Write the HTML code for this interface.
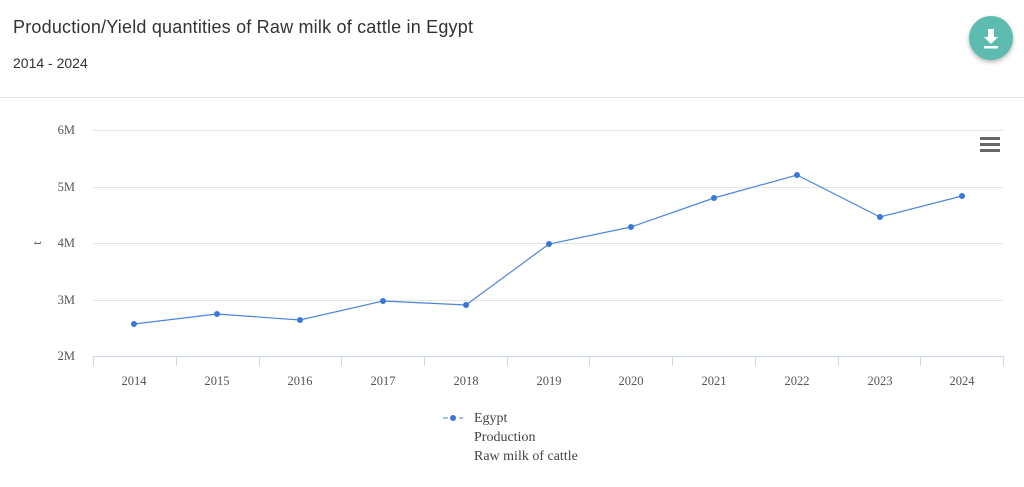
<!DOCTYPE html>
<html><head><style>
body{margin:0;background:#fff;width:1024px;height:487px;overflow:hidden;font-family:"Liberation Sans",sans-serif;}
.t{position:absolute;left:13px;top:17px;font-size:18px;color:#333;letter-spacing:0.2px}
.s{position:absolute;left:13px;top:55px;font-size:14px;color:#333}
.hr{position:absolute;left:0;top:97px;width:1024px;height:1px;background:#e6e6e6}
.btn{position:absolute;left:969px;top:16px;width:44px;height:44px;border-radius:50%;background:#5cbcaf;box-shadow:0 2px 5px rgba(0,0,0,.3)}
</style></head><body>
<div class="t">Production/Yield quantities of Raw milk of cattle in Egypt</div>
<div class="s">2014 - 2024</div>
<div class="hr"></div>
<div class="btn"><svg width="44" height="44"><path d="M19 13h6v8h4l-7 7-7-7h4z" fill="#fff"/><rect x="15" y="30" width="14" height="2.5" fill="#fff"/></svg></div>
<svg width="1024" height="487" style="position:absolute;left:0;top:0" font-family="Liberation Serif,serif" font-size="12.5" fill="#555">
<g stroke="#e6e6e6" stroke-width="1">
<line x1="93" x2="1003" y1="130.5" y2="130.5"/><line x1="93" x2="1003" y1="187.5" y2="187.5"/><line x1="93" x2="1003" y1="243.5" y2="243.5"/><line x1="93" x2="1003" y1="300.5" y2="300.5"/>
<line x1="93" x2="1003" y1="356.5" y2="356.5" stroke="#ccd6eb"/>
</g>
<g stroke="#ccd6eb"><line x1="93.5" x2="93.5" y1="356" y2="366"/><line x1="176.5" x2="176.5" y1="356" y2="366"/><line x1="259.5" x2="259.5" y1="356" y2="366"/><line x1="341.5" x2="341.5" y1="356" y2="366"/><line x1="424.5" x2="424.5" y1="356" y2="366"/><line x1="507.5" x2="507.5" y1="356" y2="366"/><line x1="589.5" x2="589.5" y1="356" y2="366"/><line x1="672.5" x2="672.5" y1="356" y2="366"/><line x1="755.5" x2="755.5" y1="356" y2="366"/><line x1="838.5" x2="838.5" y1="356" y2="366"/><line x1="920.5" x2="920.5" y1="356" y2="366"/><line x1="1003.5" x2="1003.5" y1="356" y2="366"/></g>
<g text-anchor="end"><text x="75" y="134">6M</text><text x="75" y="191">5M</text><text x="75" y="247">4M</text><text x="75" y="304">3M</text><text x="75" y="360">2M</text></g>
<text x="38" y="246" text-anchor="middle" transform="rotate(-90 38 243)">t</text>
<g text-anchor="middle"><text x="134" y="385">2014</text><text x="217" y="385">2015</text><text x="300" y="385">2016</text><text x="383" y="385">2017</text><text x="466" y="385">2018</text><text x="549" y="385">2019</text><text x="631" y="385">2020</text><text x="714" y="385">2021</text><text x="797" y="385">2022</text><text x="880" y="385">2023</text><text x="962" y="385">2024</text></g>
<polyline fill="none" stroke="#4a86dd" stroke-width="1.2" points="134,324 217,314 300,320 383,301 466,305 549,244 631,227 714,198 797,175 880,217 962,196"/>
<g fill="#3a78d8"><circle cx="134" cy="324" r="3"/><circle cx="217" cy="314" r="3"/><circle cx="300" cy="320" r="3"/><circle cx="383" cy="301" r="3"/><circle cx="466" cy="305" r="3"/><circle cx="549" cy="244" r="3"/><circle cx="631" cy="227" r="3"/><circle cx="714" cy="198" r="3"/><circle cx="797" cy="175" r="3"/><circle cx="880" cy="217" r="3"/><circle cx="962" cy="196" r="3"/></g>
<g fill="#666"><rect x="980" y="137" width="20" height="3"/><rect x="980" y="143" width="20" height="3"/><rect x="980" y="149" width="20" height="3"/></g>
<line x1="443" x2="463" y1="418" y2="418" stroke="#4a86dd" stroke-dasharray="5,3"/><circle cx="453" cy="418" r="3" fill="#3a78d8"/>
<g font-size="14" fill="#444"><text x="474" y="422">Egypt</text><text x="474" y="441">Production</text><text x="474" y="460">Raw milk of cattle</text></g>
</svg>
</body></html>
